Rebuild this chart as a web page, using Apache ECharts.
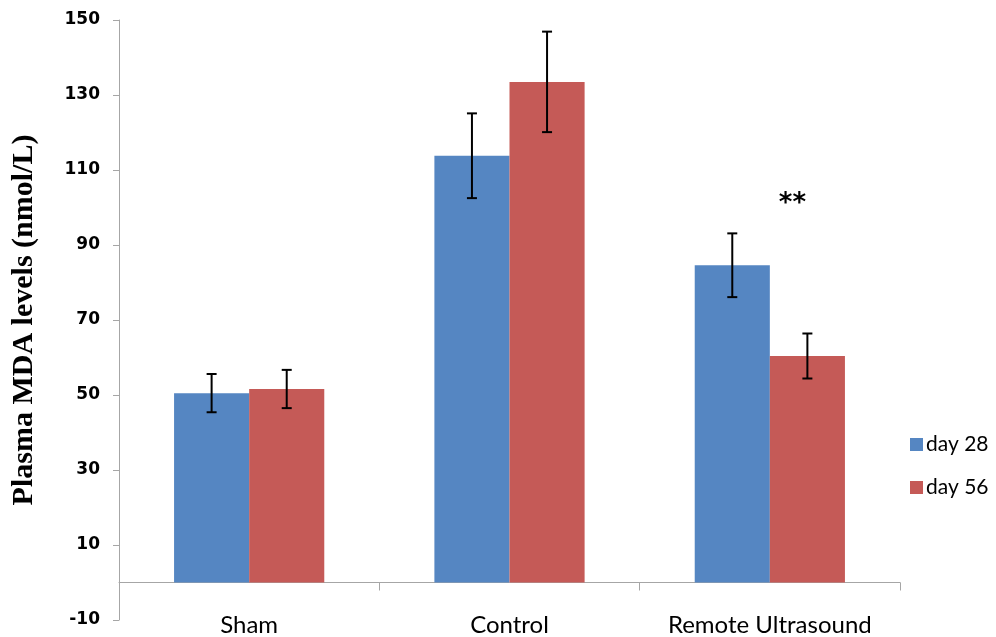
<!DOCTYPE html>
<html>
<head>
<meta charset="utf-8">
<script src="https://cdn.jsdelivr.net/npm/echarts@6/dist/echarts.min.js"></script>
<style>
  html, body { margin: 0; padding: 0; background: #fff; }
  #chart { width: 996px; height: 637px; }
</style>
</head>
<body>
<div id="chart"></div>
<script>
// data
var groups = ["Sham", "Control", "Remote Ultrasound"];
var day28 = [50.5, 113.8, 84.6];
var day56 = [51.6, 133.5, 60.4];
var err28 = [5.1, 11.3, 8.5];
var err56 = [5.1, 13.4, 6.0];
var yTicks = { min: -10, max: 150, step: 20 };

var blue = "#5586c2";
var red = "#c55a57";
var catGap = 0.423;

function errData(means, errs) {
    return means.map(function (m, i) {
        return [i, m - errs[i], m + errs[i]];
    });
}

// draws the I-shaped error bar on the left (-1) or right (+1) bar of a group
function errorBars(side) {
    return function (params, api) {
        var band = api.size([1, 0])[0];
        var bw = band * (1 - catGap) / 2;
        var lo = api.coord([api.value(0), api.value(1)]);
        var hi = api.coord([api.value(0), api.value(2)]);
        var x = lo[0] + side * bw / 2;
        var cap = 5;
        var style = { stroke: "#000", lineWidth: 2 };
        return {
            type: "group",
            children: [
                { type: "line", shape: { x1: x, y1: lo[1], x2: x, y2: hi[1] }, style: style },
                { type: "line", shape: { x1: x - cap, y1: lo[1], x2: x + cap, y2: lo[1] }, style: style },
                { type: "line", shape: { x1: x - cap, y1: hi[1], x2: x + cap, y2: hi[1] }, style: style }
            ]
        };
    };
}

var myChart = echarts.init(document.getElementById("chart"));

myChart.setOption({
    animation: false,
    grid: { left: 119, right: 96, top: 20, bottom: 17, outerBoundsMode: "none" },
    legend: {
        orient: "vertical",
        left: 905,
        top: 429,
        itemGap: 22,
        itemWidth: 13,
        itemHeight: 13,
        icon: "rect",
        data: ["day 28", "day 56"],
        textStyle: { fontFamily: "Lato", fontSize: 21, color: "#000", padding: [0, 0, 0, -2] }
    },
    xAxis: [
        {
            // axis line at zero with the group ticks
            type: "category",
            data: groups,
            axisLine: { onZero: true, lineStyle: { color: "#a6a6a6", width: 1 } },
            axisTick: { show: true, interval: 0, length: 8, lineStyle: { color: "#a6a6a6" } },
            axisLabel: { show: false }
        },
        {
            // group names along the bottom
            type: "category",
            data: groups,
            position: "bottom",
            axisLine: { show: false, onZero: false },
            axisTick: { show: false },
            axisLabel: {
                interval: 0,
                margin: -6,
                lineHeight: 22,
                fontFamily: "Lato",
                fontSize: 24,
                color: "#000"
            }
        }
    ],
    yAxis: {
        type: "value",
        min: yTicks.min,
        max: yTicks.max,
        interval: yTicks.step,
        name: "Plasma MDA levels (nmol/L)",
        nameLocation: "middle",
        nameGap: 80,
        nameTextStyle: { fontFamily: "Liberation Serif", fontWeight: "bold", fontSize: 30, color: "#000" },
        axisLine: { show: true, lineStyle: { color: "#a6a6a6", width: 1 } },
        axisTick: { show: true, length: 6, lineStyle: { color: "#a6a6a6" } },
        splitLine: { show: false },
        axisLabel: { margin: 19, fontFamily: "DejaVu Sans", fontWeight: "bold", fontSize: 17, color: "#000" }
    },
    series: [
        {
            name: "day 28",
            type: "bar",
            data: day28,
            barGap: "0%",
            barCategoryGap: (catGap * 100) + "%",
            itemStyle: { color: blue }
        },
        {
            name: "day 56",
            type: "bar",
            data: day56,
            itemStyle: { color: red },
            markPoint: {
                symbol: "circle",
                symbolSize: 1,
                symbolOffset: [-15, 0],
                itemStyle: { color: "rgba(0,0,0,0)" },
                label: {
                    show: true,
                    position: "inside",
                    formatter: "**",
                    fontFamily: "DejaVu Sans",
                    fontWeight: "bold",
                    fontSize: 26,
                    color: "#000"
                },
                data: [{ coord: ["Remote Ultrasound", 101] }]
            }
        },
        {
            type: "custom",
            name: "err28",
            renderItem: errorBars(-1),
            data: errData(day28, err28),
            encode: { x: 0, y: [1, 2] },
            z: 10
        },
        {
            type: "custom",
            name: "err56",
            renderItem: errorBars(1),
            data: errData(day56, err56),
            encode: { x: 0, y: [1, 2] },
            z: 10
        }
    ]
});
</script>
</body>
</html>
